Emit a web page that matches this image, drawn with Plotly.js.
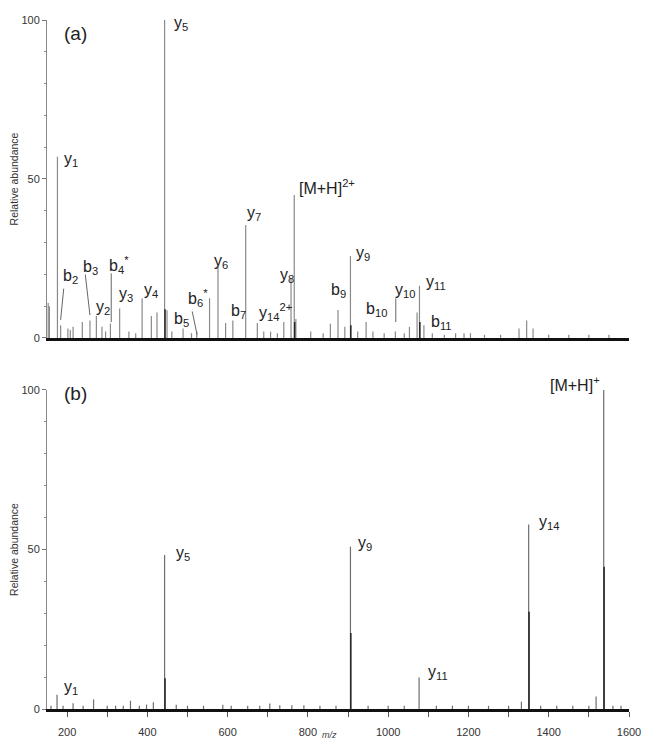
<!DOCTYPE html>
<html>
<head>
<meta charset="utf-8">
<script src="https://cdn.plot.ly/plotly-3.0.1.min.js"></script>
<style>html,body{margin:0;padding:0;background:#fff;}#chart{width:645px;height:740px;}</style>
</head>
<body>
<div id="chart"></div>
<script>
// ---------- Panel (a): MS/MS of [M+H]2+ ----------
var aMz = [153, 156, 176, 184, 202, 208, 215, 238, 257, 273, 287, 296, 308, 331, 354, 371, 387, 410, 424, 443, 449, 461, 489, 510, 523, 555, 576, 595, 613, 645, 674, 690, 707, 724, 740, 758, 766, 770, 807, 838, 856, 875, 892, 906, 924, 945, 962, 990, 1018, 1040, 1053, 1072, 1078, 1089, 1110, 1140, 1168, 1189, 1205, 1240, 1280, 1326, 1345, 1361, 1400, 1450, 1500, 1550];
var aAbund = [11, 10, 57, 4, 3, 2.5, 3.5, 5, 5.5, 6.9, 3.5, 2, 4.5, 9.3, 2, 1.5, 12.5, 6.9, 8, 100, 8.7, 2, 3, 1.5, 2, 12.5, 22.4, 4.7, 5.5, 35.5, 4.7, 2, 2, 1.5, 5, 18.8, 45, 6, 2, 1.5, 4.5, 8.8, 3.5, 25.8, 2, 5, 2, 1.5, 2, 1.5, 3.5, 8, 16.4, 4, 1.5, 1, 1.5, 1.5, 1.5, 1, 1, 3, 5.5, 3, 1, 1, 1, 1];
var aIsoMz = [444, 767, 907, 1079];
var aIsoAbund = [9, 5, 4, 5];

var aLabels = ["(a)", "y<sub>1</sub>", "b<sub>2</sub>", "b<sub>3</sub>", "y<sub>2</sub>", "b<sub>4</sub><sup>*</sup>", "y<sub>3</sub>", "y<sub>4</sub>", "y<sub>5</sub>", "b<sub>5</sub>", "b<sub>6</sub><sup>*</sup>", "y<sub>6</sub>", "b<sub>7</sub>", "y<sub>7</sub>", "y<sub>14</sub><sup>2+</sup>", "y<sub>8</sub>", "[M+H]<sup>2+</sup>", "y<sub>9</sub>", "b<sub>9</sub>", "b<sub>10</sub>", "y<sub>10</sub>", "y<sub>11</sub>", "b<sub>11</sub>"];
var aLabelMz = [187, 187, 185, 235, 267, 299, 324, 387, 461, 461, 496, 561, 603, 643, 673, 725, 773, 915, 852, 940, 1012, 1089, 1101];
var aLabelAbund = [95.9, 56, 19.2, 22.3, 9.7, 23, 13.8, 15, 99, 5.7, 12.6, 24, 8.2, 39.3, 8.2, 19.8, 47.5, 26.7, 15, 8.8, 15, 17.3, 5];

// leader lines: from label (start) to peak (end)
var aLeadStartMz = [192, 245, 310, 511, 1019];
var aLeadStartAb = [16, 20.4, 20.8, 8.8, 12.9];
var aLeadEndMz = [184, 257, 310, 524, 1019];
var aLeadEndAb = [5.7, 7.2, 5, 1, 5];

// ---------- Panel (b): MS/MS of [M+H]+ ----------
var bMz = [160, 175, 190, 215, 240, 266, 300, 321, 340, 358, 380, 398, 415, 443, 472, 500, 540, 588, 609, 650, 680, 705, 730, 760, 790, 830, 870, 906, 950, 1000, 1040, 1077, 1120, 1160, 1200, 1250, 1300, 1332, 1350, 1380, 1420, 1460, 1500, 1518, 1537, 1560, 1580];
var bAbund = [1, 4.5, 1, 1.8, 1, 3, 1, 1, 1, 2.6, 1, 1.4, 2.1, 48.3, 1.3, 1, 1, 1.3, 1, 1, 1, 1.7, 1.2, 1.2, 1.2, 1, 1, 50.9, 1, 1, 1, 9.9, 1, 1, 1, 1, 1, 2.3, 57.8, 1, 1, 1, 1, 3.9, 100, 1, 1];
var bIsoMz = [444, 907, 1351, 1538];
var bIsoAbund = [9.6, 23.8, 30.5, 44.6];

var bLabels = ["(b)", "y<sub>1</sub>", "y<sub>5</sub>", "y<sub>9</sub>", "y<sub>11</sub>", "y<sub>14</sub>", "[M+H]<sup>+</sup>"];
var bLabelMz = [187, 187, 466, 920, 1094, 1370, 1533];
var bLabelAbund = [99, 6.6, 48.9, 52, 11.3, 58.6, 100];

// ---------- build ----------
function sticks(mz, ab) {
  var x = [], y = [];
  for (var i = 0; i < mz.length; i++) { x.push(mz[i], mz[i], null); y.push(0, ab[i], null); }
  return {x: x, y: y};
}
var sA = sticks(aMz, aAbund), sAi = sticks(aIsoMz, aIsoAbund);
var sB = sticks(bMz, bAbund), sBi = sticks(bIsoMz, bIsoAbund);

var traces = [
  {x: sA.x, y: sA.y, xaxis: 'x', yaxis: 'y', mode: 'lines', line: {color: '#8a8a8a', width: 1.2}, hoverinfo: 'skip', showlegend: false},
  {x: sAi.x, y: sAi.y, xaxis: 'x', yaxis: 'y', mode: 'lines', line: {color: '#222', width: 1.5}, hoverinfo: 'skip', showlegend: false},
  {x: sB.x, y: sB.y, xaxis: 'x2', yaxis: 'y2', mode: 'lines', line: {color: '#6e6e6e', width: 1.2}, hoverinfo: 'skip', showlegend: false},
  {x: sBi.x, y: sBi.y, xaxis: 'x2', yaxis: 'y2', mode: 'lines', line: {color: '#222', width: 1.5}, hoverinfo: 'skip', showlegend: false}
];

var labFont = {family: 'Liberation Sans, Arial, sans-serif', size: 16, color: '#222'};
var annotations = [];
for (var i = 0; i < aLabels.length; i++) {
  annotations.push({xref: 'x', yref: 'y', x: aLabelMz[i], y: aLabelAbund[i], text: aLabels[i], showarrow: false,
    xanchor: 'left', yanchor: 'middle', font: i === 0 ? {family: labFont.family, size: 19, color: '#222'} : labFont});
}
for (var j = 0; j < aLeadStartMz.length; j++) {
  annotations.push({xref: 'x', yref: 'y', axref: 'x', ayref: 'y', x: aLeadEndMz[j], y: aLeadEndAb[j],
    ax: aLeadStartMz[j], ay: aLeadStartAb[j], text: '', showarrow: true, arrowhead: 0, arrowwidth: 1,
    arrowcolor: '#666', standoff: 0, startstandoff: 0});
}
for (var k = 0; k < bLabels.length; k++) {
  var last = (k === bLabels.length - 1);
  annotations.push({xref: 'x2', yref: 'y2', x: bLabelMz[k], y: bLabelAbund[k], text: bLabels[k], showarrow: false,
    xanchor: last ? 'right' : 'left', yanchor: 'middle', yshift: last ? 6 : 0,
    font: k === 0 ? {family: labFont.family, size: 19, color: '#222'} : labFont});
}
annotations.push({xref: 'paper', yref: 'paper', x: 0.485, y: -0.027, yanchor: 'top', text: '<i>m/z</i>', showarrow: false,
  font: {family: labFont.family, size: 9, color: '#444'}});

var tickFont = {family: 'Liberation Sans, Arial, sans-serif', size: 11, color: '#333'};
var yAxisBase = {
  range: [0, 100], tickvals: [0, 50, 100], ticks: 'outside', ticklen: 4, tickcolor: '#777',
  showline: true, linecolor: '#888', linewidth: 1, showgrid: false, zeroline: false,
  minor: {dtick: 10, ticks: 'outside', ticklen: 2, tickcolor: '#888'},
  tickfont: tickFont, fixedrange: true,
  title: {text: 'Relative abundance', font: {family: 'Liberation Sans, Arial, sans-serif', size: 10.5, color: '#333'}, standoff: 0}
};

var layout = {
  width: 645, height: 740,
  margin: {l: 47, r: 16, t: 20, b: 31},
  paper_bgcolor: '#fff', plot_bgcolor: '#fff',
  showlegend: false,
  xaxis: {domain: [0, 1], range: [150, 1600], anchor: 'y', showticklabels: false, ticks: '',
    showline: true, linecolor: '#111', linewidth: 3, showgrid: false, zeroline: false},
  yaxis: Object.assign({}, yAxisBase, {domain: [0.5385, 1], anchor: 'x'}),
  xaxis2: {domain: [0, 1], range: [150, 1600], anchor: 'y2', dtick: 200, tick0: 0, ticks: 'outside', ticklen: 5,
    tickcolor: '#555', showline: true, linecolor: '#111', linewidth: 3, showgrid: false, zeroline: false,
    minor: {dtick: 100, ticks: 'outside', ticklen: 5, tickcolor: '#555'},
    tickfont: tickFont, ticklabelstandoff: 6},
  yaxis2: Object.assign({}, yAxisBase, {domain: [0, 0.463], anchor: 'x2'}),
  annotations: annotations
};

Plotly.newPlot('chart', traces, layout, {staticPlot: true, displayModeBar: false});
</script>
</body>
</html>
